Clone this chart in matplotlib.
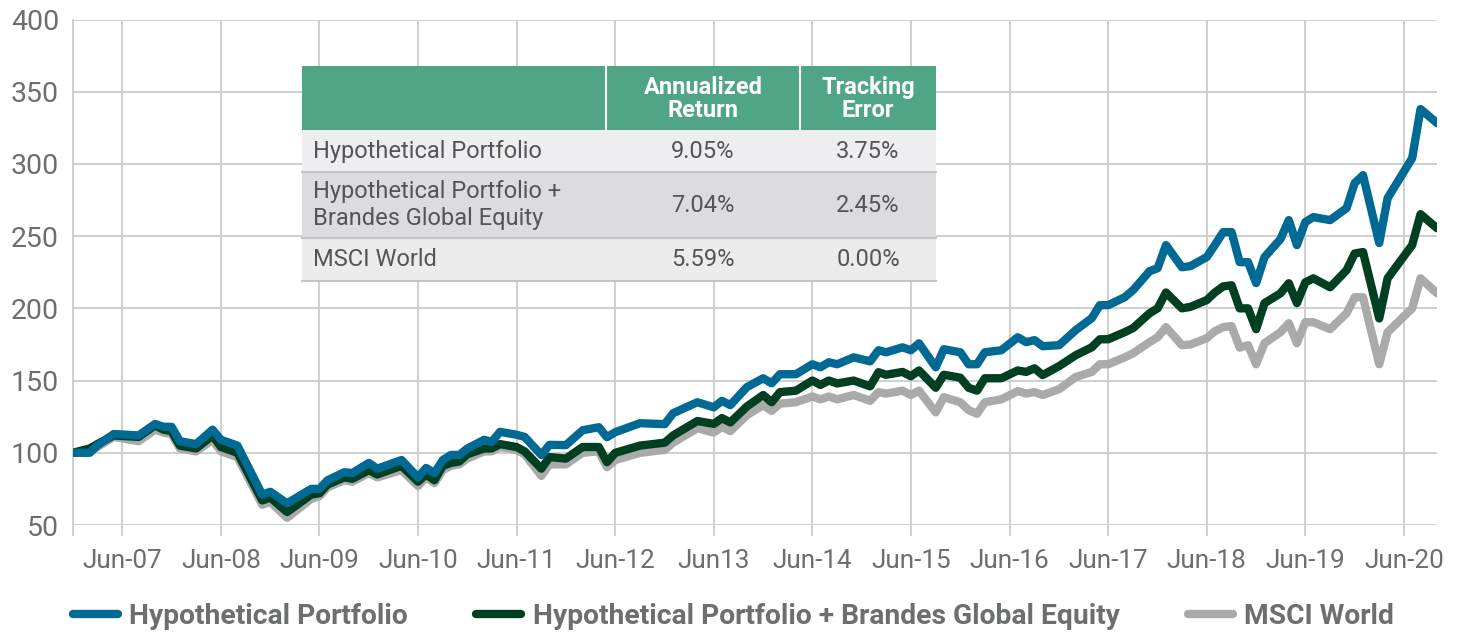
import matplotlib
matplotlib.use("Agg")
import matplotlib.pyplot as plt
import pandas as pd
from matplotlib.patches import Rectangle

plt.rcParams['font.family'] = ['Roboto', 'DejaVu Sans']

months = ["2006-12", "2007-02", "2007-03", "2007-05", "2007-08", "2007-10", "2007-11", "2007-12",
          "2008-01", "2008-03", "2008-05", "2008-06", "2008-08", "2008-11", "2008-12",
          "2009-02", "2009-05", "2009-06", "2009-07", "2009-09", "2009-10", "2009-12",
          "2010-01", "2010-04", "2010-06", "2010-07", "2010-08", "2010-09", "2010-10", "2010-11", "2010-12",
          "2011-02", "2011-03", "2011-04", "2011-06", "2011-07", "2011-09", "2011-10", "2011-12",
          "2012-02", "2012-04", "2012-05", "2012-06", "2012-09", "2012-12",
          "2013-01", "2013-04", "2013-06", "2013-07", "2013-08", "2013-10", "2013-12",
          "2014-01", "2014-02", "2014-04", "2014-06", "2014-07", "2014-08", "2014-09", "2014-11",
          "2015-01", "2015-02", "2015-03", "2015-05", "2015-06", "2015-07", "2015-09", "2015-10", "2015-12",
          "2016-01", "2016-02", "2016-03", "2016-05", "2016-07", "2016-08", "2016-09", "2016-10", "2016-12",
          "2017-02", "2017-04", "2017-05", "2017-06", "2017-08", "2017-09", "2017-11", "2017-12",
          "2018-01", "2018-03", "2018-04", "2018-06", "2018-07", "2018-08", "2018-09", "2018-10", "2018-11", "2018-12",
          "2019-01", "2019-03", "2019-04", "2019-05", "2019-06", "2019-07", "2019-09", "2019-11", "2019-12",
          "2020-01", "2020-03", "2020-04", "2020-07", "2020-08", "2020-10"]

hypothetical = [100, 100, 105, 113, 112, 120, 118, 118,
                108, 106, 116, 109, 105, 71, 73,
                65, 75, 75, 81, 86.5, 86, 93,
                89, 95, 83, 89.5, 86, 95, 98.5, 98.5, 103,
                109, 107.5, 114.5, 112.5, 111, 98.5, 105.5, 105.3,
                115.6, 117.7, 110.8, 114.3, 120.5, 119.8,
                127.4, 135, 131.5, 136, 133, 145.4, 151.6,
                148.1, 154.4, 154.4, 161.3, 159.2, 162.7, 161.3, 166.1,
                163.3, 171, 169.6, 173, 171, 175.8, 159.2, 171.7, 169.6,
                161.3, 161.3, 169.6, 171, 180, 176.6, 178, 173.8, 174.5,
                185, 193.2, 202.2, 202.2, 207.7, 212.6, 225.7, 227.8,
                243.8, 228.5, 229.2, 235.5, 243.8, 252.8, 252.8, 232, 232, 217.5,
                235.5, 247.9, 261.1, 243.8, 259.7, 263.2, 261.1, 269.4, 286.7,
                292.2, 245.2, 276.3, 304, 338, 328.3]

hypo_brandes = [100, 103, 106, 112, 111, 119, 116, 115,
                105, 103, 112, 104, 100, 67, 69,
                59, 71, 72, 78, 83, 82, 88,
                85, 91, 80, 85, 81, 91, 93, 94, 99,
                103, 103, 106, 104, 101, 89, 97, 96,
                104, 104, 93.5, 100, 105, 107,
                112, 122, 120, 124, 121, 132, 140,
                135, 142, 143, 150, 147, 150, 148, 150,
                146, 155.8, 154, 156, 153, 157, 145, 154, 152,
                145, 143, 151.6, 151.6, 157, 156, 158.5, 153.8, 160,
                167.6, 173, 178.6, 178.6, 183.5, 186.3, 196.6, 200,
                211, 200, 201, 205.7, 211, 215.2, 216, 200, 200, 185.6,
                203.6, 210.4, 217.4, 203.6, 218, 220.8, 214.6, 226.4, 238,
                239, 193, 220.8, 243.8, 265.2, 255.5]

msci_world = [100, 101, 104, 111, 108, 116, 114, 113,
              103, 101, 109, 101, 97, 64, 66,
              55, 68, 70, 76, 81, 80, 86,
              83, 88, 77, 83, 79, 88, 91, 92, 96,
              101, 101, 104, 102, 99, 84, 92, 92,
              100, 101, 90, 95, 100, 102,
              107, 117, 114, 118, 115, 126, 133,
              129, 134, 135, 139, 137, 139, 137, 140,
              136, 142, 141, 143, 140, 143, 128, 138.5, 135,
              129.5, 127, 135, 137, 142.7, 141, 142, 140, 144,
              152.5, 156, 161.3, 161.3, 166.1, 168.9, 176.6, 180,
              187, 174.5, 175, 179.3, 184.2, 187, 187.7, 172.8, 174.5, 161.3,
              175.9, 183.5, 189.7, 175.9, 190.4, 190.4, 185.6, 196.6, 207.7,
              207.7, 161.3, 183.5, 200, 220.8, 210.5]

series_names = ["Hypothetical Portfolio",
                "Hypothetical Portfolio + Brandes Global Equity",
                "MSCI World"]
series_colors = ["#006a94", "#003f22", "#aaaaaa"]

tick_dates = ["2007-06", "2008-06", "2009-06", "2010-06", "2011-06", "2012-06", "2013-06",
              "2014-06", "2015-06", "2016-06", "2017-06", "2018-06", "2019-06", "2020-06"]
tick_labels = ["Jun-07", "Jun-08", "Jun-09", "Jun-10", "Jun-11", "Jun-12", "Jun13",
               "Jun-14", "Jun-15", "Jun-16", "Jun-17", "Jun-18", "Jun-19", "Jun-20"]

table_header = ["", "Annualized\nReturn", "Tracking\nError"]
table_names = ["Hypothetical Portfolio", "Hypothetical Portfolio +\nBrandes Global Equity", "MSCI World"]
table_returns = ["9.05%", "7.04%", "5.59%"]
table_errors = ["3.75%", "2.45%", "0.00%"]

W, H = 1457, 633
fig = plt.figure(figsize=(W / 100, H / 100), dpi=100)
ax = fig.add_axes([73 / W, 1 - 525 / H, (1437 - 73) / W, (525 - 19.5) / H])

x = pd.to_datetime(months)
lines = []
for vals, name, col, z in zip([hypothetical, hypo_brandes, msci_world], series_names, series_colors, [4, 3, 2]):
    ln, = ax.plot(x, vals, color=col, lw=6, label=name, zorder=z,
                  solid_capstyle='round', solid_joinstyle='round')
    lines.append(ln)

ax.set_xlim(x[0], x[-1])
ax.set_ylim(50, 400)
ax.set_yticks(range(50, 401, 50))

xt = [x[0]] + list(pd.to_datetime(tick_dates))
ax.set_xticks(xt)
ax.set_xticklabels([""] + tick_labels)

grid_col = "#cfcfcf"
ax.grid(True, color=grid_col, lw=1.4, zorder=0)
ax.set_axisbelow(True)
for s in ["top", "right", "bottom"]:
    ax.spines[s].set_visible(False)
ax.spines["left"].set_color(grid_col)
ax.spines["left"].set_linewidth(1.4)
ax.tick_params(axis='x', length=8, width=1.4, color=grid_col, labelsize=18.8, labelcolor="#6d6e71", pad=9)
ax.tick_params(axis='y', length=0, labelsize=20.5, labelcolor="#6d6e71", pad=10)

# table drawn over the plot, pixel positions
def fx(px):
    return px / W

def fy(py):
    return 1 - py / H

col_edges = [302, 606, 800, 936]
row_edges = [66, 130, 172, 238, 281]
row_colors = ["#4fa584", "#eeeef0", "#dcdcde", "#ececec"]

for r in range(4):
    y0, y1 = row_edges[r], row_edges[r + 1]
    fig.add_artist(Rectangle((fx(302), fy(y1)), fx(936 - 302), (y1 - y0) / H,
                             transform=fig.transFigure, facecolor=row_colors[r], edgecolor='none', zorder=5))
    if r > 0:
        fig.add_artist(plt.Line2D([fx(302), fx(936)], [fy(y1), fy(y1)], transform=fig.transFigure,
                                  color="#c4c4c6", lw=1.5, zorder=6))
for c in [606, 800]:
    fig.add_artist(plt.Line2D([fx(c), fx(c)], [fy(66), fy(130)], transform=fig.transFigure,
                              color="white", lw=1.5, zorder=6))

for c in range(1, 3):
    cx = (col_edges[c] + col_edges[c + 1]) / 2
    fig.text(fx(cx), fy(99), table_header[c], ha='center', va='center', color='white',
             fontsize=17, fontweight='bold', linespacing=1.05, zorder=7)

body_col = "#555557"
for r in range(3):
    cy = (row_edges[r + 1] + row_edges[r + 2]) / 2
    fig.text(fx(313), fy(cy), table_names[r], ha='left', va='center', color=body_col,
             fontsize=17, linespacing=1.2, zorder=7)
    fig.text(fx(703), fy(cy), table_returns[r], ha='center', va='center', color=body_col, fontsize=17, zorder=7)
    fig.text(fx(868), fy(cy), table_errors[r], ha='center', va='center', color=body_col, fontsize=17, zorder=7)

leg = fig.legend(handles=lines, loc='center', bbox_to_anchor=(0.5034, fy(616)), ncol=3, frameon=False,
                 prop={'size': 20.3, 'weight': 'bold'}, labelcolor="#6d6e71",
                 handlelength=1.6, handletextpad=0.42, columnspacing=2.4)

fig.savefig("out.png", dpi=100)
